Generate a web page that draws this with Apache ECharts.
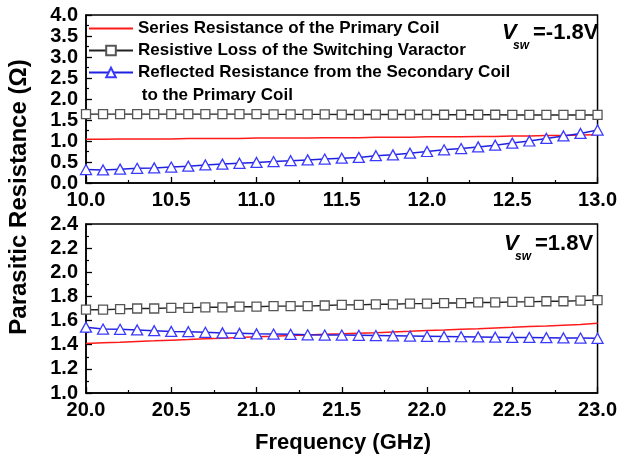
<!DOCTYPE html>
<html><head><meta charset="utf-8">
<script src="https://cdn.jsdelivr.net/npm/echarts@6/dist/echarts.min.js"></script>
<style>html,body{margin:0;padding:0;background:#fff}#c{width:620px;height:462px}</style>
</head><body><div id="c"></div>
<script>
var freqTop = [10.0,10.1,10.2,10.3,10.4,10.5,10.6,10.7,10.8,10.9,11.0,11.1,11.2,11.3,11.4,11.5,11.6,11.7,11.8,11.9,12.0,12.1,12.2,12.3,12.4,12.5,12.6,12.7,12.8,12.9,13.0];
var freqBot = [20.0,20.1,20.2,20.3,20.4,20.5,20.6,20.7,20.8,20.9,21.0,21.1,21.2,21.3,21.4,21.5,21.6,21.7,21.8,21.9,22.0,22.1,22.2,22.3,22.4,22.5,22.6,22.7,22.8,22.9,23.0];
var seriesNames = ['Series Resistance of the Primary Coil','Resistive Loss of the Switching Varactor','Reflected Resistance from the Secondary Coil'];
var seriesTop = [1.04,1.04,1.05,1.05,1.05,1.05,1.06,1.06,1.06,1.06,1.07,1.07,1.07,1.07,1.08,1.08,1.08,1.09,1.09,1.09,1.10,1.10,1.10,1.11,1.11,1.12,1.12,1.13,1.13,1.14,1.15];
var lossTop = [1.64,1.64,1.64,1.64,1.64,1.64,1.64,1.64,1.64,1.64,1.64,1.635,1.635,1.635,1.635,1.63,1.63,1.63,1.63,1.63,1.63,1.625,1.625,1.625,1.625,1.62,1.62,1.62,1.62,1.62,1.62];
var reflTop = [0.32,0.31,0.33,0.35,0.36,0.38,0.40,0.43,0.45,0.47,0.49,0.51,0.53,0.55,0.57,0.59,0.61,0.65,0.67,0.71,0.75,0.79,0.82,0.86,0.90,0.95,1.00,1.06,1.12,1.18,1.26];
var seriesBot = [1.41,1.416,1.421,1.427,1.432,1.438,1.443,1.449,1.454,1.46,1.465,1.47,1.476,1.481,1.486,1.49,1.495,1.50,1.506,1.511,1.517,1.522,1.528,1.533,1.539,1.544,1.55,1.555,1.561,1.567,1.577];
var lossBot = [1.69,1.69,1.695,1.70,1.70,1.705,1.705,1.71,1.71,1.715,1.715,1.72,1.72,1.72,1.725,1.73,1.73,1.735,1.735,1.74,1.74,1.745,1.745,1.75,1.75,1.755,1.755,1.76,1.76,1.765,1.77];
var reflBot = [1.545,1.53,1.528,1.522,1.516,1.51,1.508,1.503,1.498,1.494,1.49,1.488,1.486,1.482,1.48,1.48,1.478,1.476,1.474,1.472,1.47,1.468,1.466,1.464,1.462,1.46,1.46,1.458,1.456,1.455,1.453];
var xTicksTop = [10, 13, 0.5];
var xTicksBot = [20, 23, 0.5];
var yTicksTop = [0, 4, 0.5];
var yTicksBot = [1.0, 2.4, 0.2];
var labelTop = ['V', 'sw', '=-1.8V'];
var labelBot = ['V', 'sw', '=1.8V'];
var xTitle = 'Frequency (GHz)';
var yTitle = 'Parasitic Resistance (\u03A9)';
var legendExtra = ' to the Primary Coil';

function pairs(xs, ys){ return xs.map(function(x,i){ return [x, ys[i]]; }); }
var FONT = 'Liberation Sans, Arial, sans-serif';
function xAxis(idx, t){
  return { type:'value', gridIndex: idx, min:t[0], max:t[1], interval:t[2],
    axisLine:{show:true, lineStyle:{color:'#000', width:1.5}},
    axisTick:{show:true, inside:true, length:6, lineStyle:{color:'#000', width:1.3}},
    minorTick:{show:true, splitNumber:2, length:3, lineStyle:{color:'#000', width:1.2}},
    splitLine:{show:false},
    axisLabel:{color:'#000', fontSize:20, fontWeight:'bold', fontFamily:FONT, margin:7,
      formatter:function(v){ return v.toFixed(1); }} };
}
function yAxis(idx, t){
  return { type:'value', gridIndex: idx, min:t[0], max:t[1], interval:t[2],
    axisLine:{show:true, lineStyle:{color:'#000', width:1.5}},
    axisTick:{show:true, inside:true, length:6, lineStyle:{color:'#000', width:1.3}},
    minorTick:{show:true, splitNumber:2, length:3, lineStyle:{color:'#000', width:1.2}},
    splitLine:{show:false},
    axisLabel:{color:'#000', fontSize:20, fontWeight:'bold', fontFamily:FONT, margin:8,
      formatter:function(v){ return v.toFixed(1); }} };
}
function lineSeries(name, idx, xs, ys, kind){
  var s = { name:name, type:'line', xAxisIndex:idx, yAxisIndex:idx, data:pairs(xs, ys), animation:false, z: kind==='red'?2:3 };
  if (kind === 'red') {
    s.symbol = 'none'; s.showSymbol = false;
    s.lineStyle = {color:'#ff1a1a', width:1.5}; s.itemStyle = {color:'#ff1a1a'};
  } else if (kind === 'sq') {
    s.symbol = 'rect'; s.symbolSize = 9;
    s.lineStyle = {color:'#222', width:1.4};
    s.itemStyle = {color:'#fff', borderColor:'#555', borderWidth:1.3};
  } else {
    s.symbol = 'triangle'; s.symbolSize = [11,10];
    s.lineStyle = {color:'#2020e0', width:1.5};
    s.itemStyle = {color:'#fff', borderColor:'#3a3aff', borderWidth:1.3};
  }
  return s;
}
var chart = echarts.init(document.getElementById('c'), null, {renderer:'canvas'});
chart.setOption({
  backgroundColor:'#fff',
  animation:false,
  grid:[
    {left:86, top:15, width:514, height:168, show:true, borderColor:'#000', borderWidth:1.5, backgroundColor:'transparent'},
    {left:86, top:224, width:514, height:169, show:true, borderColor:'#000', borderWidth:1.5, backgroundColor:'transparent'}
  ],
  xAxis:[xAxis(0, xTicksTop), xAxis(1, xTicksBot)],
  yAxis:[yAxis(0, yTicksTop), yAxis(1, yTicksBot)],
  legend:{ data:[
      {name:seriesNames[0], itemStyle:{color:'rgba(0,0,0,0)', borderColor:'rgba(0,0,0,0)', borderWidth:0}},
      {name:seriesNames[1]},
      {name:seriesNames[2]}
    ],
    orient:'vertical', left:88, top:20, padding:0, itemWidth:44, itemHeight:12, itemGap:5,
    textStyle:{color:'#000', fontSize:17, fontWeight:'bold', fontFamily:FONT, lineHeight:17},
    selectedMode:false },
  series:[
    lineSeries(seriesNames[0], 0, freqTop, seriesTop, 'red'),
    lineSeries(seriesNames[1], 0, freqTop, lossTop, 'sq'),
    lineSeries(seriesNames[2], 0, freqTop, reflTop, 'tri'),
    lineSeries(seriesNames[0], 1, freqBot, seriesBot, 'red'),
    lineSeries(seriesNames[1], 1, freqBot, lossBot, 'sq'),
    lineSeries(seriesNames[2], 1, freqBot, reflBot, 'tri')
  ],
  graphic:[
    {type:'text', x:137, y:95, style:{text:legendExtra, fill:'#000', font:'bold 17px ' + FONT, textAlign:'left', textVerticalAlign:'middle'}},
    {type:'text', x:343, y:443, style:{text:xTitle, fill:'#000', font:'bold 22px ' + FONT, textAlign:'center', textVerticalAlign:'middle'}},
    {type:'text', x:19, y:197, rotation:Math.PI/2, style:{text:yTitle, fill:'#000', font:'bold 24px ' + FONT, textAlign:'center', textVerticalAlign:'middle'}},
    {type:'text', x:502, y:33, style:{text:labelTop[0], fill:'#000', font:'italic bold 22px ' + FONT, textAlign:'left', textVerticalAlign:'middle'}},
    {type:'text', x:513, y:46, style:{text:labelTop[1], fill:'#000', font:'italic bold 12px ' + FONT, textAlign:'left', textVerticalAlign:'middle'}},
    {type:'text', x:533, y:33, style:{text:labelTop[2], fill:'#000', font:'bold 22px ' + FONT, textAlign:'left', textVerticalAlign:'middle'}},
    {type:'text', x:504, y:244, style:{text:labelBot[0], fill:'#000', font:'italic bold 22px ' + FONT, textAlign:'left', textVerticalAlign:'middle'}},
    {type:'text', x:515, y:257, style:{text:labelBot[1], fill:'#000', font:'italic bold 12px ' + FONT, textAlign:'left', textVerticalAlign:'middle'}},
    {type:'text', x:535, y:244, style:{text:labelBot[2], fill:'#000', font:'bold 22px ' + FONT, textAlign:'left', textVerticalAlign:'middle'}}
  ]
});
</script></body></html>
